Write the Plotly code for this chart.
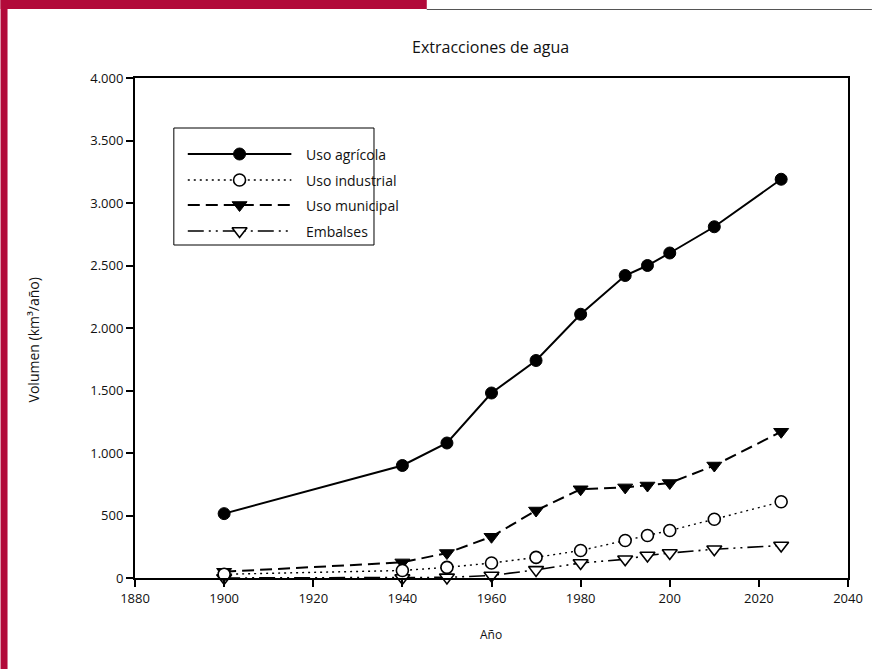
import plotly.graph_objects as go

# ---------------- data ----------------
years_agr = [1900, 1940, 1950, 1960, 1970, 1980, 1990, 1995, 2000, 2010, 2025]
uso_agricola = [515, 900, 1080, 1480, 1740, 2110, 2420, 2500, 2600, 2810, 3190]
uso_industrial = [30, 60, 85, 120, 165, 220, 300, 340, 380, 470, 610]
uso_municipal = [50, 125, 200, 330, 540, 710, 725, 740, 760, 900, 1170]
embalses = [0, 0, 5, 20, 65, 120, 150, 180, 200, 230, 260]

series_names = ["Uso agrícola", "Uso industrial", "Uso municipal", "Embalses"]

x_tickvals = [1880, 1900, 1920, 1940, 1960, 1980, 2000, 2020, 2040]
x_ticktext = ["1880", "1900", "1920", "1940", "1960", "1980", "200", "2020", "2040"]
y_tickvals = [0, 500, 1000, 1500, 2000, 2500, 3000, 3500, 4000]
y_ticktext = ["0", "500", "1.000", "1.500", "2.000", "2.500", "3.000", "3.500", "4.000"]

title_text = "Extracciones de agua"
x_title = "Año"
y_title = "Volumen (km³/año)"

# ---------------- layout geometry ----------------
W, H = 875, 669
L, R, T, B = 135, 24, 78, 91
PW, PH = W - L - R, H - T - B


def px(x):
    return (x - L) / PW


def py(y):
    return (H - B - y) / PH


FONT = "Open Sans, Noto Sans, DejaVu Sans, sans-serif"
BLACK = "#000000"
RED = "#B20A3A"

styles = [
    dict(line=dict(color=BLACK, width=2), marker=dict(symbol="circle", size=12, color=BLACK,
                                                      line=dict(color=BLACK, width=1))),
    dict(line=dict(color=BLACK, width=1.4, dash="2px,4px"),
         marker=dict(symbol="circle", size=12, color="white", line=dict(color=BLACK, width=1.6))),
    dict(line=dict(color=BLACK, width=2, dash="12px,6px"),
         marker=dict(symbol="triangle-down", size=13, color=BLACK, line=dict(color=BLACK, width=1))),
    dict(line=dict(color=BLACK, width=1.6, dash="16px,5px,2px,5px,2px,5px"),
         marker=dict(symbol="triangle-down", size=13, color="white", line=dict(color=BLACK, width=1.6))),
]
values = [uso_agricola, uso_industrial, uso_municipal, embalses]

fig = go.Figure()
# draw in order so agricultural is on top
for name, vals, st in reversed(list(zip(series_names, values, styles))):
    fig.add_trace(go.Scatter(x=years_agr, y=vals, mode="lines+markers", name=name,
                             line=st["line"], marker=st["marker"], showlegend=False,
                             cliponaxis=False))

# ---------------- manual legend ----------------
shapes = []
annotations = []
# decorative page frame
shapes.append(dict(type="rect", xref="paper", yref="paper", x0=px(0), x1=px(428), y0=py(9), y1=py(0),
                   fillcolor=RED, line=dict(width=0), layer="below"))
shapes.append(dict(type="rect", xref="paper", yref="paper", x0=px(0), x1=px(7), y0=py(H), y1=py(0),
                   fillcolor=RED, line=dict(width=0), layer="below"))
shapes.append(dict(type="line", xref="paper", yref="paper", x0=px(428), x1=px(W), y0=py(9.5), y1=py(9.5),
                   line=dict(color="#555555", width=1), layer="below"))

# legend box
shapes.append(dict(type="rect", xref="paper", yref="paper", x0=px(174), x1=px(375), y0=py(245), y1=py(128),
                   line=dict(color=BLACK, width=1), fillcolor="white", layer="between"))
row_y = [154, 180, 205, 231]
for i, (name, st) in enumerate(zip(series_names, styles)):
    yy = row_y[i]
    shapes.append(dict(type="line", xref="paper", yref="paper", x0=px(188), x1=px(292), y0=py(yy), y1=py(yy),
                       line=dict(color=BLACK, width=st["line"]["width"], dash=st["line"].get("dash", "solid")),
                       layer="between"))
    annotations.append(dict(x=px(305), y=py(yy), xref="paper", yref="paper", text=name, showarrow=False,
                            xanchor="left", yanchor="middle", font=dict(family=FONT, size=14, color="#111")))

for i, st in enumerate(styles):
    fig.add_trace(go.Scatter(x=[px(240)], y=[py(row_y[i])], xaxis="x2", yaxis="y2", mode="markers",
                             marker=st["marker"], showlegend=False, hoverinfo="skip", cliponaxis=False))

# titles
annotations.append(dict(x=px(492), y=py(47), xref="paper", yref="paper", text=title_text, showarrow=False,
                        xanchor="center", yanchor="middle", font=dict(family=FONT, size=16, color="#111")))
annotations.append(dict(x=px(492), y=py(634), xref="paper", yref="paper", text=x_title, showarrow=False,
                        xanchor="center", yanchor="middle", font=dict(family=FONT, size=12, color="#111")))
annotations.append(dict(x=px(33), y=py(340), xref="paper", yref="paper", text=y_title, showarrow=False,
                        textangle=-90, xanchor="center", yanchor="middle",
                        font=dict(family=FONT, size=14, color="#111")))

fig.update_layout(
    width=W, height=H,
    margin=dict(l=L, r=R, t=T, b=B, pad=0),
    paper_bgcolor="white", plot_bgcolor="white",
    showlegend=False,
    font=dict(family=FONT, size=12, color="#111"),
    xaxis=dict(range=[1880, 2040], tickvals=x_tickvals, ticktext=x_ticktext, showgrid=False, zeroline=False,
               showline=True, linecolor=BLACK, linewidth=2, mirror=True, ticks="outside", ticklen=7,
               tickwidth=1.5, tickcolor=BLACK, tickfont=dict(family=FONT, size=13, color="#111")),
    yaxis=dict(range=[0, 4000], tickvals=y_tickvals, ticktext=y_ticktext, showgrid=False, zeroline=False,
               showline=True, linecolor=BLACK, linewidth=2, mirror=True, ticks="outside", ticklen=7,
               tickwidth=1.5, tickcolor=BLACK, tickfont=dict(family=FONT, size=13, color="#111")),
    xaxis2=dict(range=[0, 1], overlaying="x", visible=False, fixedrange=True),
    yaxis2=dict(range=[0, 1], overlaying="y", visible=False, fixedrange=True),
    shapes=shapes,
    annotations=annotations,
)

fig.write_html("out.html", config={"displayModeBar": False},
               post_script="document.body.style.margin='0';document.body.style.overflow='hidden';")
